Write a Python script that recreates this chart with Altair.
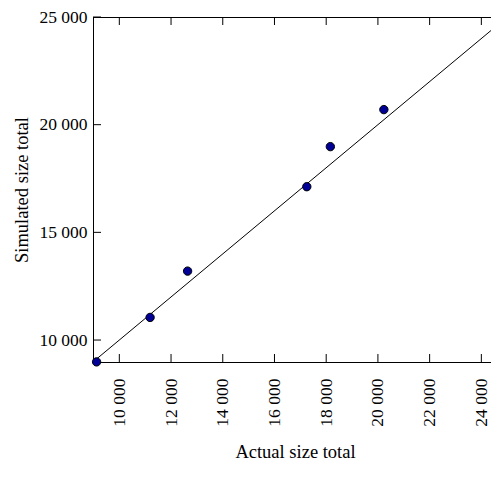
import altair as alt
import pandas as pd

# data
actual = [9120, 11190, 12640, 17250, 18160, 20230]
simulated = [8985, 11050, 13200, 17120, 18980, 20700]
ref_line = [8980, 25000]           # identity line y = x
x_ticks = [10000, 12000, 14000, 16000, 18000, 20000, 22000, 24000]
y_ticks = [10000, 15000, 20000, 25000]
x_domain = [8982, 24373]
y_domain = [8980, 25000]

W, H = 398, 345
TICK = 8
FONT = "Liberation Serif"
label_expr = "replace(format(datum.value, ','), ',', ' ')"

pts = pd.DataFrame({"x": actual, "y": simulated})
line_df = pd.DataFrame({"x": ref_line, "y": ref_line})
xt = pd.DataFrame({"x": x_ticks})
yt = pd.DataFrame({"y": y_ticks})

xs = alt.Scale(domain=x_domain, nice=False, zero=False)
ys = alt.Scale(domain=y_domain, nice=False, zero=False)

ax_x = alt.Axis(orient="bottom", title="Actual size total", values=x_ticks, ticks=False,
                grid=False, labelAngle=270, labelPadding=16, labelExpr=label_expr,
                labelFlush=False, labelOverlap=False, titlePadding=16, titleX=W / 2 + 3)
ax_y = alt.Axis(orient="left", title="Simulated size total", values=y_ticks, ticks=False,
                grid=False, labelPadding=6, labelExpr=label_expr, labelFlush=False,
                labelOverlap=False, titlePadding=7)

X = alt.X("x:Q", scale=xs, axis=ax_x)
Y = alt.Y("y:Q", scale=ys, axis=ax_y)

line = alt.Chart(line_df).mark_line(color="black", strokeWidth=1, clip=True).encode(x=X, y=Y)
top_frame = alt.Chart(xt).mark_rule(color="black", strokeWidth=1).encode(
    x=alt.value(0), x2=alt.value(W), y=alt.value(0.5),
)
bottom_ticks = alt.Chart(xt).mark_rule(color="black", strokeWidth=1).encode(
    x=X, y=alt.value(H - TICK), y2=alt.value(H),
)
top_ticks = alt.Chart(xt).mark_rule(color="black", strokeWidth=1).encode(
    x=X, y=alt.value(0), y2=alt.value(TICK),
)
left_ticks = alt.Chart(yt).mark_rule(color="black", strokeWidth=1).encode(
    y=Y, x=alt.value(0), x2=alt.value(TICK),
)
points = alt.Chart(pts).mark_point(
    filled=True, shape="circle", size=70, fill="#000096", stroke="black",
    strokeWidth=1, opacity=1, fillOpacity=1
).encode(x=X, y=Y)

chart = alt.layer(line, top_frame, bottom_ticks, top_ticks, left_ticks, points).properties(
    width=W, height=H,
    autosize=alt.AutoSizeParams(type="none"),
    padding={"left": 85, "top": 9, "right": 0, "bottom": 110},
).configure_view(stroke=None).configure_axis(
    labelFont=FONT, titleFont=FONT, labelFontSize=17.5, titleFontSize=18.5,
    titleFontWeight="normal", labelColor="black", titleColor="black",
    domainColor="black", domainWidth=1,
)

chart.save("out.html", embed_options={"renderer": "svg", "actions": False})
